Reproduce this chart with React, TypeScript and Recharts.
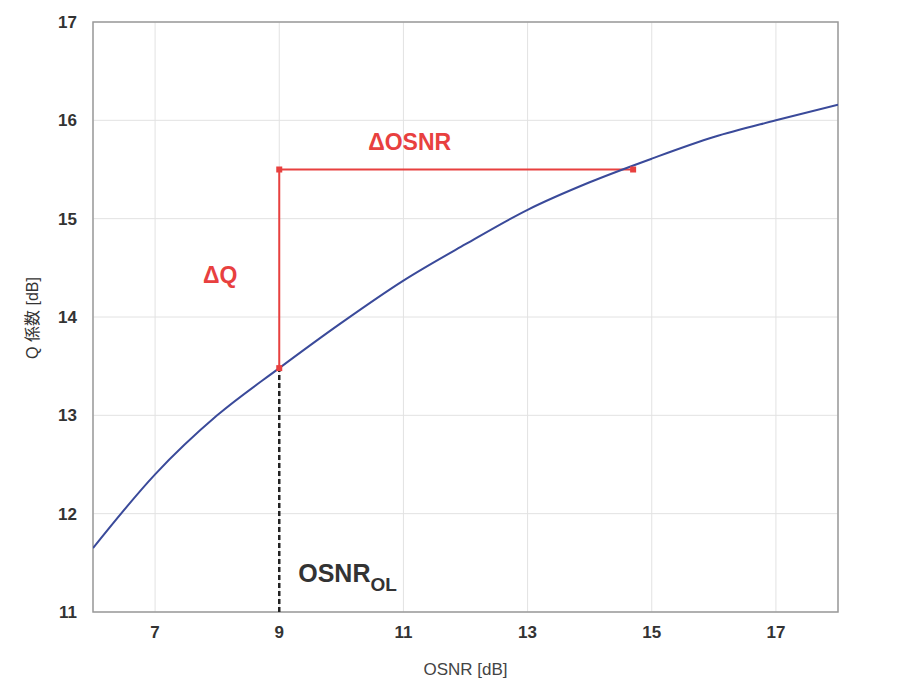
import React from "react";
import {
  LineChart,
  Line,
  XAxis,
  YAxis,
  CartesianGrid,
  ReferenceArea,
  ReferenceDot,
} from "recharts";

// Q factor vs OSNR curve
const osnr = [6, 7, 8, 9, 10, 11, 12, 13, 14, 15, 16, 17, 18];
const qFactor = [11.65, 12.4, 13.0, 13.48, 13.94, 14.37, 14.74, 15.09, 15.37, 15.61, 15.83, 16.0, 16.16];

// delta construction lines
const deltaX = [9, 9, 14.7];
const deltaY = [13.48, 15.5, 15.5];
const olX = [9, 9];
const olY = [11, 13.48];

const xTicks = [7, 9, 11, 13, 15, 17];
const yTicks = [11, 12, 13, 14, 15, 16, 17];

const curve = osnr.map((x, i) => ({ x, q: qFactor[i] }));
const delta = deltaX.map((x, i) => ({ x, q: deltaY[i] }));
const olLine = olX.map((x, i) => ({ x, q: olY[i] }));

const FONT = '"Liberation Sans", Arial, sans-serif';
const RED = "#e8403f";

const SquareDot = (props: any) => {
  const { cx, cy } = props;
  if (cx == null || cy == null) return null;
  return <rect x={cx - 3} y={cy - 3} width={6} height={6} fill={RED} />;
};

const textLabel = (txt: React.ReactNode, color: string, size: number) => (props: any) => {
  const vb = props.viewBox || {};
  const cx = vb.x + (vb.width || 0) / 2;
  const cy = vb.y + (vb.height || 0) / 2;
  return (
    <text x={cx} y={cy} fill={color} fontSize={size} fontWeight="bold" fontFamily={FONT} textAnchor="middle" dominantBaseline="central">
      {txt}
    </text>
  );
};

export default function App() {
  return (
    <div style={{ position: "absolute", left: 0, top: 0, background: "#fff" }}>
      <LineChart width={921} height={683} margin={{ top: 22, right: 83, bottom: 0, left: 0 }}>
        <CartesianGrid stroke="#e2e2e2" strokeWidth={1} />
        <XAxis
          dataKey="x"
          type="number"
          domain={[6, 18]}
          ticks={xTicks}
          allowDataOverflow
          height={71}
          axisLine={false}
          tickLine={false}
          tickMargin={8}
          tick={{ fill: "#333", fontSize: 17, fontFamily: FONT, fontWeight: "bold" }}
          label={{ value: "OSNR [dB]", position: "insideBottom", offset: 8, fill: "#444", fontSize: 17, fontFamily: FONT }}
        />
        <YAxis
          type="number"
          domain={[11, 17]}
          ticks={yTicks}
          allowDataOverflow
          width={93}
          axisLine={false}
          tickLine={false}
          tickMargin={10}
          tick={{ fill: "#333", fontSize: 17, fontFamily: FONT, fontWeight: "bold" }}
          label={{
            content: () => (
              <text
                x={0}
                y={0}
                transform="translate(38,318) rotate(-90)"
                textAnchor="middle"
                fill="#333"
                fontSize={16}
                fontFamily={'"Liberation Sans", "Noto Sans CJK JP", sans-serif'}
              >
                Q 係数 [dB]
              </text>
            ),
          }}
        />
        <ReferenceArea x1={6} x2={18} y1={11} y2={17} fill="none" stroke="#9a9a9a" strokeWidth={1.5} ifOverflow="visible" />
        <Line
          data={olLine}
          dataKey="q"
          stroke="#222"
          strokeWidth={2.5}
          strokeDasharray="5 3"
          dot={false}
          isAnimationActive={false}
        />
        <Line
          data={delta}
          dataKey="q"
          stroke={RED}
          strokeWidth={2}
          dot={<SquareDot />}
          isAnimationActive={false}
        />
        <Line
          data={curve}
          type="monotone"
          dataKey="q"
          stroke="#3a4a9a"
          strokeWidth={2}
          dot={false}
          isAnimationActive={false}
        />
        <ReferenceDot x={11.1} y={15.78} r={0} fill="none" stroke="none" label={{ content: textLabel("ΔOSNR", RED, 23) }} />
        <ReferenceDot x={8.05} y={14.43} r={0} fill="none" stroke="none" label={{ content: textLabel("ΔQ", RED, 23) }} />
        <ReferenceDot
          x={10.1}
          y={11.4}
          r={0}
          fill="none"
          stroke="none"
          label={{
            content: textLabel(
              <>
                OSNR<tspan fontSize={19} dy={11}>OL</tspan>
              </>,
              "#333",
              25
            ),
          }}
        />
      </LineChart>
    </div>
  );
}
